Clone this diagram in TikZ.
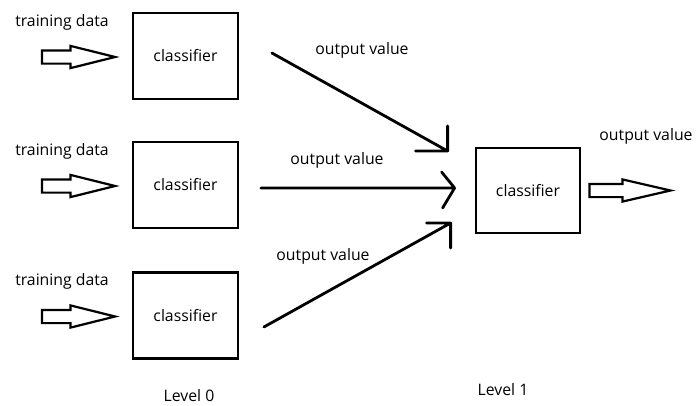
\documentclass[tikz,border=0pt]{standalone}
\usepackage{fontspec}
\setmainfont{Open Sans}
\usetikzlibrary{shapes.arrows,calc}

\begin{document}
\begin{tikzpicture}[x=1pt,y=1pt,
	every node/.style={font=\fontsize{15.8}{19}\selectfont},
	classbox/.style={draw, line width=2.8pt, minimum width=105pt, minimum height=86pt, inner sep=0pt},
	fatarrow/.style={single arrow, draw, line width=2.2pt, inner xsep=0pt, inner ysep=5.5pt,
		single arrow head extend=4.5pt, single arrow tip angle=28, anchor=tip},
	link/.style={line width=2.8pt, line join=round, line cap=round}]
	\def \boxx{185.5}
	\def \metax{528}
	\def \metay{190.5}

	\useasboundingbox (0,0) rectangle (699,-405);

	% Level 0 classifiers
	\foreach \i/\y in {1/56, 2/185, 3/315.5} {
		\node[classbox] (c\i) at (\boxx,-\y) {classifier};
		\node[fatarrow, minimum height=73pt] (in\i) at ($(c\i.west)+(-12,-1)$) {};
		\node (data\i) at (62,-\y+34) {training data};
	}

	% Level 1 classifier
	\node[classbox, minimum width=104pt, minimum height=85pt] (meta) at (\metax,-\metay) {classifier};
	\node[fatarrow, minimum height=81pt, single arrow tip angle=26] (out) at ($(meta.east)+(94,0)$) {};
	\node (outval) at (646,-136) {output value};

	% Outputs of level 0
	\coordinate (s1) at ($(c1.east)+(32.5,3)$);
	\coordinate (t1) at ($(meta.west)+(-27,39.5)$);
	\draw[link] (s1) -- (t1) ++(0,25) -- (t1) -- ++(-32,0);
	\coordinate (s2) at ($(c2.east)+(21.5,-3)$);
	\coordinate (t2) at ($(meta.west)+(-20,2.5)$);
	\draw[link] (s2) -- (t2) ++(-13,16) -- (t2) -- ++(-12,-20);
	\coordinate (s3) at ($(c3.east)+(24.5,-11.5)$);
	\coordinate (t3) at ($(meta.west)+(-24,-32.5)$);
	\draw[link] (s3) -- (t3) ++(-24,0) -- (t3) -- ++(0,-25);

	\node (val1) at (362,-50) {output value};
	\node (val2) at (337,-160) {output value};
	\node (val3) at (323,-256) {output value};

	% Levels
	\node (lev0) at (189,-396) {Level 0};
	\node (lev1) at (503,-390) {Level 1};

\end{tikzpicture}
\end{document}
